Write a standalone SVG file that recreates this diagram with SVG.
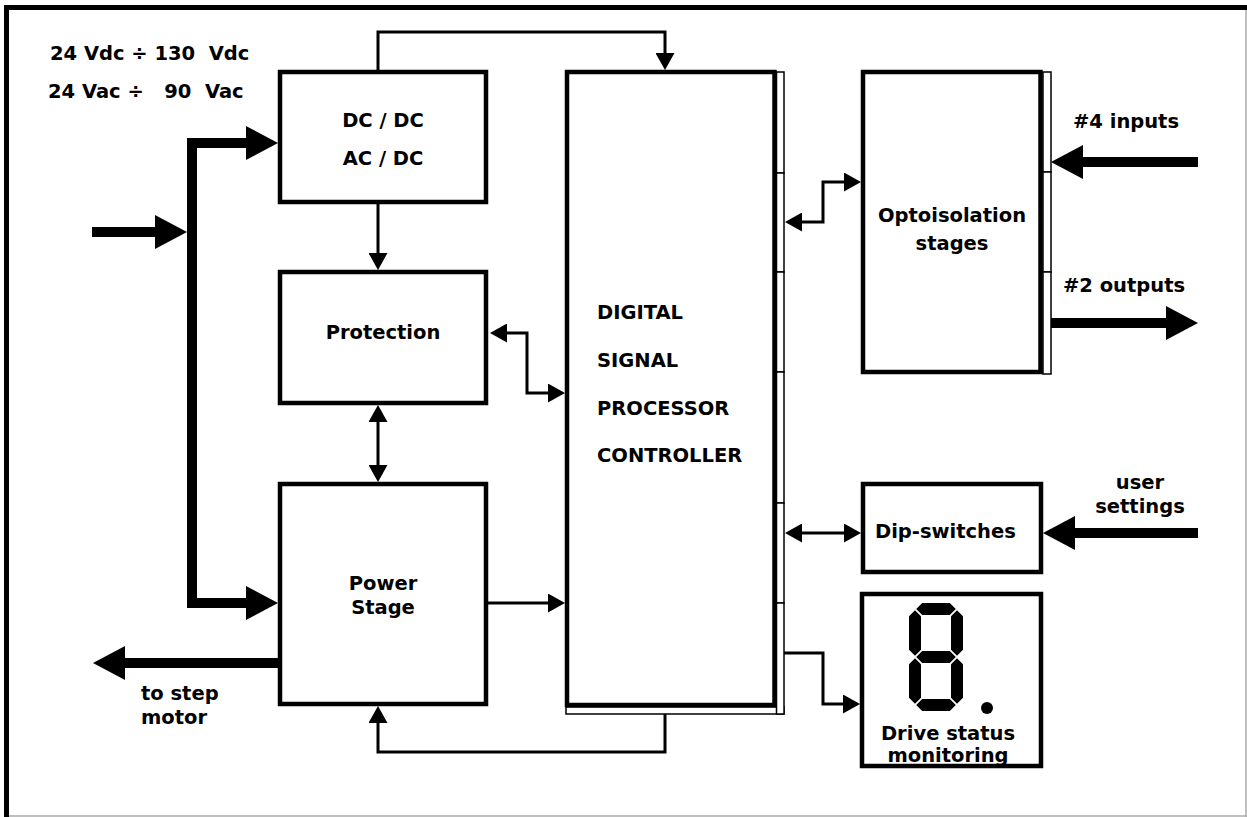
<svg xmlns="http://www.w3.org/2000/svg" width="1247" height="817" viewBox="0 0 1247 817">
<style>
.box{fill:#fff;stroke:#000;stroke-width:4.5}
.strip{fill:#fff;stroke:#000;stroke-width:1.5}
.thin{fill:none;stroke:#000;stroke-width:3}
.thick{fill:none;stroke:#000;stroke-width:10}
text{font-family:"DejaVu Sans","Verdana",sans-serif;font-weight:bold;font-size:19.5px;fill:#000}
.c{text-anchor:middle}
</style>
<defs>
<marker id="ah" markerUnits="userSpaceOnUse" viewBox="0 0 17 19" refX="7" refY="9.5" markerWidth="17" markerHeight="19" orient="auto-start-reverse">
<path d="M0,0 L17,9.5 L0,19 z" fill="#000"/>
</marker>
<marker id="AH" markerUnits="userSpaceOnUse" viewBox="0 0 32 34" refX="12" refY="17" markerWidth="32" markerHeight="34" orient="auto-start-reverse">
<path d="M0,0 L32,17 L0,34 z" fill="#000"/>
</marker>
</defs>
<rect x="0" y="0" width="1247" height="817" fill="#fff"/>
<g id="frame">
<rect x="4" y="5" width="1243" height="5" fill="#000"/>
<rect x="4" y="5" width="5" height="812" fill="#000"/>
<line x1="1246" y1="10" x2="1246" y2="817" stroke="#aaa" stroke-width="1.5"/>
<line x1="9" y1="816" x2="1247" y2="816" stroke="#aaa" stroke-width="1.5"/>
</g>
<g id="supply-label">
<text x="50" y="60" xml:space="preserve">24 Vdc ÷ 130  Vdc</text>
<text x="48" y="98" xml:space="preserve">24 Vac ÷   90  Vac</text>
</g>
<g id="motor-label">
<text x="141" y="700">to step</text>
<text x="141" y="724">motor</text>
</g>
<g id="connectors">
<path class="thin" d="M378,70 V32 H665 V60" marker-end="url(#ah)"/>
<path class="thin" d="M378,204 V260" marker-end="url(#ah)"/>
<path class="thin" d="M378,415 V472" marker-start="url(#ah)" marker-end="url(#ah)"/>
<path class="thin" d="M500,333 H527 V393 H555" marker-start="url(#ah)" marker-end="url(#ah)"/>
<path class="thin" d="M488,603 H555" marker-end="url(#ah)"/>
<path class="thin" d="M795,222 H823 V182 H851" marker-start="url(#ah)" marker-end="url(#ah)"/>
<path class="thin" d="M795,533 H851" marker-start="url(#ah)" marker-end="url(#ah)"/>
<path class="thin" d="M784,653 H823 V704 H850" marker-end="url(#ah)"/>
<path class="thin" d="M665,714 V752 H378 V716" marker-end="url(#ah)"/>
<path class="thick" d="M92,232 H167" marker-end="url(#AH)"/>
<path class="thick" d="M258,143 H192 V603 H258" stroke-linejoin="miter" marker-start="url(#AH)" marker-end="url(#AH)"/>
<path class="thick" d="M278,663 H113" marker-end="url(#AH)"/>
<path class="thick" d="M1198,162 H1071" marker-end="url(#AH)"/>
<path class="thick" d="M1051,323 H1178" marker-end="url(#AH)"/>
<path class="thick" d="M1198,533 H1063" marker-end="url(#AH)"/>
</g>
<g id="dcdc">
<rect class="box" x="280" y="72" width="206" height="130"/>
<text class="c" x="383" y="127">DC / DC</text>
<text class="c" x="383" y="165">AC / DC</text>
</g>
<g id="protection">
<rect class="box" x="280" y="272" width="206" height="131"/>
<text class="c" x="383" y="339">Protection</text>
</g>
<g id="power-stage">
<rect class="box" x="280" y="484" width="206" height="220"/>
<text class="c" x="383" y="590">Power</text>
<text class="c" x="383" y="614">Stage</text>
</g>
<g id="dsp">
<rect class="strip" x="566" y="707" width="218" height="7"/>
<rect class="strip" x="776.5" y="72" width="7.5" height="101"/>
<rect class="strip" x="776.5" y="173" width="7.5" height="99"/>
<rect class="strip" x="776.5" y="272" width="7.5" height="100"/>
<rect class="strip" x="776.5" y="372" width="7.5" height="131"/>
<rect class="strip" x="776.5" y="503" width="7.5" height="100"/>
<rect class="strip" x="776.5" y="603" width="7.5" height="111"/>
<rect class="box" x="567" y="72" width="207.5" height="633"/>
<text x="597" y="319">DIGITAL</text>
<text x="597" y="367">SIGNAL</text>
<text x="597" y="415">PROCESSOR</text>
<text x="597" y="462">CONTROLLER</text>
</g>
<g id="opto">
<rect class="strip" x="1043" y="72" width="8" height="100"/>
<rect class="strip" x="1043" y="172" width="8" height="100"/>
<rect class="strip" x="1043" y="272" width="8" height="102"/>
<rect class="box" x="863" y="72" width="177.5" height="300"/>
<text class="c" x="952" y="222">Optoisolation</text>
<text class="c" x="952" y="250">stages</text>
<text x="1073" y="128">#4 inputs</text>
<text x="1063" y="292">#2 outputs</text>
</g>
<g id="dip-switches">
<rect class="box" x="863" y="484" width="178" height="88"/>
<text x="875" y="538">Dip-switches</text>
<text class="c" x="1140" y="489">user</text>
<text class="c" x="1140" y="513">settings</text>
</g>
<g id="drive-status">
<rect class="box" x="862" y="594" width="179" height="172"/>
<g fill="#000">
<polygon points="916.2,609 922.2,603 949.8,603 955.8,609 949.8,615 922.2,615"/>
<polygon points="916.2,657 922.2,651 949.8,651 955.8,657 949.8,663 922.2,663"/>
<polygon points="916.2,705 922.2,699 949.8,699 955.8,705 949.8,711 922.2,711"/>
<polygon points="915,610.2 921,616.2 921,649.8 915,655.8 909,649.8 909,616.2"/>
<polygon points="957,610.2 963,616.2 963,649.8 957,655.8 951,649.8 951,616.2"/>
<polygon points="915,658.2 921,664.2 921,697.8 915,703.8 909,697.8 909,664.2"/>
<polygon points="957,658.2 963,664.2 963,697.8 957,703.8 951,697.8 951,664.2"/>
<circle cx="987" cy="708" r="6"/>
</g>
<text class="c" x="948" y="740">Drive status</text>
<text class="c" x="948" y="762">monitoring</text>
</g>
</svg>
